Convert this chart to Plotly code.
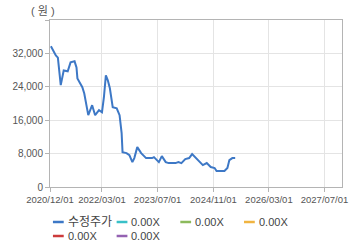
import plotly.graph_objects as go

dates = ["2020-12-09", "2021-01-21", "2021-02-08", "2021-03-05", "2021-03-31", "2021-05-05",
         "2021-05-30", "2021-07-04", "2021-07-21", "2021-07-29", "2021-09-10", "2021-09-27",
         "2021-11-01", "2021-12-05", "2021-12-31", "2022-02-03", "2022-03-01", "2022-03-18",
         "2022-04-04", "2022-04-21", "2022-05-09", "2022-06-03", "2022-07-08", "2022-08-02",
         "2022-08-20", "2022-08-28", "2022-10-02", "2022-10-27", "2022-11-22", "2022-12-09",
         "2023-01-04", "2023-02-07", "2023-03-22", "2023-05-13", "2023-05-30", "2023-07-12",
         "2023-08-07", "2023-09-10", "2023-10-06", "2023-12-05", "2023-12-30", "2024-01-25",
         "2024-02-28", "2024-04-02", "2024-04-28", "2024-05-23", "2024-07-05", "2024-07-31",
         "2024-09-03", "2024-10-08", "2024-11-11", "2024-11-28", "2025-02-05", "2025-03-03",
         "2025-03-20", "2025-04-15", "2025-05-10"]
prices = [33700, 31500, 31000, 24400, 27900, 27700,
          29850, 30100, 28650, 26000, 23900, 22400,
          17200, 19600, 17200, 18400, 17900, 21500,
          26750, 25550, 23640, 19100, 18860, 17200,
          12900, 8360, 8120, 7640, 5970, 6925,
          9550, 8120, 6925, 6925, 7160, 5970,
          7400, 5970, 5730, 5730, 5970, 5730,
          6690, 6925, 7880, 7160, 5970, 5250,
          5730, 4780, 4540, 3820, 3820, 4540,
          6450, 6925, 6925]

series_names = ["수정주가", "0.00X", "0.00X", "0.00X", "0.00X", "0.00X"]
series_colors = ["#3d78c6", "#38c0c8", "#8cba5c", "#f0b441", "#cc3b3b", "#9462b2"]

x_tickvals = ["2020-12-01", "2022-03-01", "2023-07-01", "2024-11-01", "2026-03-01", "2027-07-01"]
x_ticktext = ["2020/12/01", "2022/03/01", "2023/07/01", "2024/11/01", "2026/03/01", "2027/07/01"]
y_tickvals = [0, 8000, 16000, 24000, 32000]
y_ticktext = ["0", "8,000", "16,000", "24,000", "32,000"]

FONT = "'Liberation Sans', Arial, 'Noto Sans CJK KR', sans-serif"
W, H = 360, 248

fig = go.Figure()
fig.add_trace(go.Scatter(x=dates, y=prices, mode="lines",
                         line=dict(color=series_colors[0], width=2),
                         showlegend=False, hoverinfo="skip"))
for i in range(1, len(series_names)):
    fig.add_trace(go.Scatter(x=[None], y=[None], mode="lines",
                             line=dict(color=series_colors[i], width=2),
                             showlegend=False))

ax_l, ax_r, ax_t, ax_b = 44, 342, 20, 187
pw, ph = ax_r - ax_l, ax_b - ax_t

# manual legend laid out like the reference (two rows)
col_x = [47, 112, 177, 242, 47, 112]
row_y = [222, 222, 222, 222, 236, 236]
for cx, ry, name, color in zip(col_x, row_y, series_names, series_colors):
    xa = (cx - ax_l) / pw
    xb = (cx + 11 - ax_l) / pw
    yy = (ax_b - ry) / ph
    fig.add_shape(type="line", xref="paper", yref="paper", x0=xa, x1=xb, y0=yy, y1=yy,
                  line=dict(color=color, width=2.5))
    fig.add_annotation(x=(cx + 13 - ax_l) / pw, y=yy, xref="paper", yref="paper",
                       text=name, showarrow=False, xanchor="left", yanchor="middle",
                       font=dict(size=12 if name == "수정주가" else 11, color="#444",
                                 family=FONT))

fig.add_annotation(x=(37 - ax_l) / pw, y=(ax_b - 11) / ph, xref="paper", yref="paper",
                   text="( 원 )", showarrow=False, xanchor="center", yanchor="middle",
                   font=dict(size=11, color="#555", family=FONT))

fig.update_layout(
    width=W, height=H,
    margin=dict(l=ax_l, r=W - ax_r, t=ax_t, b=H - ax_b),
    paper_bgcolor="white", plot_bgcolor="white",
    font=dict(family=FONT, size=10, color="#555"),
    xaxis=dict(type="date", range=["2020-12-01", "2027-12-01"],
               tickvals=x_tickvals, ticktext=x_ticktext, tickangle=0,
               showgrid=True, gridcolor="#e4e4e4", gridwidth=1,
               showline=True, linecolor="#b4b4b4", linewidth=1, mirror=True,
               ticks="outside", ticklen=4, tickcolor="#b4b4b4",
               tickfont=dict(size=9.5, color="#555"), zeroline=False),
    yaxis=dict(range=[0, 40000], tickvals=y_tickvals + [40000], ticktext=y_ticktext + [""],
               showgrid=True, gridcolor="#e4e4e4", gridwidth=1,
               showline=True, linecolor="#b4b4b4", linewidth=1, mirror=True,
               ticks="outside", ticklen=4, tickcolor="#b4b4b4",
               tickfont=dict(size=10, color="#555"), zeroline=False),
)

fig.write_html("out.html")
